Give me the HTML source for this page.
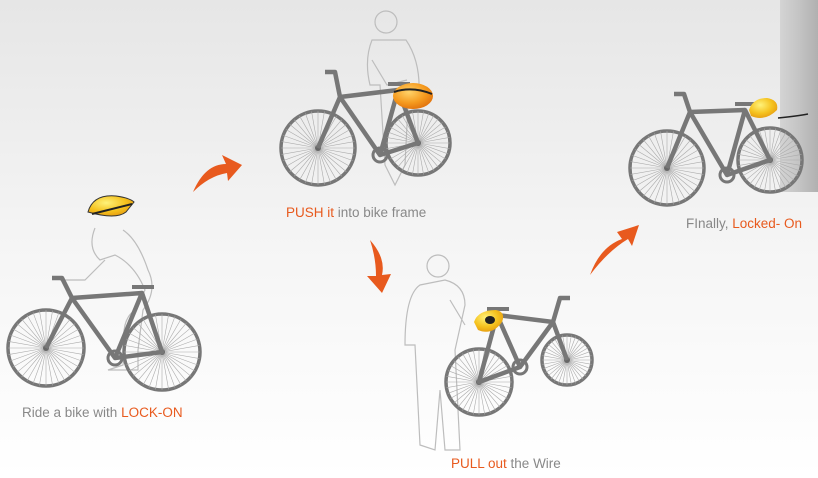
<!DOCTYPE html>
<html><head><meta charset="utf-8"><style>
html,body{margin:0;padding:0}
body{width:818px;height:478px;overflow:hidden;background:linear-gradient(#e6e6e6 0%,#f6f6f6 55%,#ffffff 100%);font-family:"Liberation Sans",sans-serif}
svg{position:absolute;left:0;top:0}
</style></head><body>
<svg id="s" width="818" height="478" viewBox="0 0 818 478" xmlns="http://www.w3.org/2000/svg">
<defs>
<linearGradient id="pole" x1="0" x2="1"><stop offset="0" stop-color="#d4d4d4"/><stop offset="0.5" stop-color="#c4c4c4"/><stop offset="1" stop-color="#b0b0b0"/></linearGradient>
<radialGradient id="hel" cx="0.4" cy="0.35" r="0.7"><stop offset="0" stop-color="#fff27a"/><stop offset="0.6" stop-color="#f5c21e"/><stop offset="1" stop-color="#e59a10"/></radialGradient>
<radialGradient id="hel2" cx="0.4" cy="0.35" r="0.7"><stop offset="0" stop-color="#ffd36a"/><stop offset="0.6" stop-color="#f59a1e"/><stop offset="1" stop-color="#e0700c"/></radialGradient>
</defs>
<rect x="780" y="0" width="38" height="192" fill="url(#pole)"/>
<g id="people" fill="none" stroke="#bdbdbd" stroke-width="1.2">
<path d="M95 228 q-8 20 5 32 l15 -5 q20 10 30 35 l-10 20 q-15 10 -10 40 l-2 15 l-15 5 l30 0 l0 -20 l5 -40 q15 -20 5 -40 q-10 -30 -25 -40 M105 260 l-20 20 l-25 0"/>
<circle cx="386" cy="22" r="11"/>
<path d="M372 40 q-8 20 -2 45 l10 0 l5 80 l10 20 l10 -20 l3 -60 l10 0 q5 -40 -12 -65 z M372 60 l15 25 l20 -5"/>
<circle cx="438" cy="266" r="11"/>
<path d="M420 285 q-15 10 -15 60 l10 0 l5 100 l15 5 l5 -60 l5 60 l15 0 l-5 -100 l10 -45 q0 -20 -20 -25 z M450 300 l15 25"/>
</g>
<g id="bikes"></g>
<path d="M88 212 q5 -18 28 -16 q14 2 18 6 l-8 10 q-10 8 -38 0 z" fill="url(#hel)" stroke="#333" stroke-width="1"/>
<path d="M92 214 l40 -10" stroke="#222" stroke-width="2"/>
<ellipse cx="413" cy="96" rx="20" ry="13" fill="url(#hel2)"/>
<path d="M394 92 q18 -6 38 2" stroke="#222" stroke-width="2" fill="none"/>
<path d="M474 322 q4 -12 22 -12 q10 2 6 12 q-10 14 -24 8 z" fill="url(#hel)"/>
<ellipse cx="490" cy="320" rx="5" ry="4" fill="#222"/>
<path d="M749 110 q4 -12 18 -12 q12 2 10 12 q-12 12 -26 6 z" fill="url(#hel)"/>
<path d="M778 118 q20 -2 30 -4" stroke="#222" stroke-width="1.5" fill="none"/>
<g fill="#e85a1e">
<path d="M193 192 q12 -28 33 -28 l-4 -9 l20 10 l-14 16 l-1 -8 q-18 3 -34 19 z"/>
<path d="M370 240 q16 18 12 35 l9 -1 l-9 19 l-15 -17 l9 0 q0 -18 -6 -36 z"/>
<path d="M590 275 q10 -28 32 -36 l-5 -7 l22 -7 l-7 21 l-4 -7 q-20 12 -38 36 z"/>
</g>
<g font-family="Liberation Sans, sans-serif" font-size="13.5" fill="#888">
<text x="22" y="417">Ride a bike with <tspan fill="#e85a1e">LOCK-ON</tspan></text>
<text x="286" y="217"><tspan fill="#e85a1e">PUSH it</tspan> into bike frame</text>
<text x="451" y="468"><tspan fill="#e85a1e">PULL out</tspan> the Wire</text>
<text x="686" y="228">FInally, <tspan fill="#e85a1e">Locked- On</tspan></text>
</g>
</svg>
<script>
var g=document.getElementById('bikes'),h='';
function wheel(x,y,r){h+='<circle cx="'+x+'" cy="'+y+'" r="'+r+'" fill="none" stroke="#777" stroke-width="3.5"/>';
for(var i=0;i<36;i++){var a=i*Math.PI/18;h+='<line x1="'+x+'" y1="'+y+'" x2="'+(x+Math.cos(a)*r)+'" y2="'+(y+Math.sin(a)*r)+'" stroke="#aaa" stroke-width="0.6"/>';}
h+='<circle cx="'+x+'" cy="'+y+'" r="3" fill="#666"/>';}
function bike(F,R,B,S,H,bar,dir){wheel(F[0],F[1],F[2]);wheel(R[0],R[1],R[2]);
var p=function(a){return a[0]+' '+a[1]};
h+='<path d="M'+p(R)+' L'+p(B)+' L'+p(S)+' Z M'+p(S)+' L'+p(H)+' L'+p(B)+' M'+p(H)+' L'+p(F)+' M'+p(H)+' L'+p(bar)+' l'+(dir*-10)+' 0" fill="none" stroke="#777" stroke-width="4.5" stroke-linejoin="round"/>';
h+='<circle cx="'+B[0]+'" cy="'+B[1]+'" r="7" fill="none" stroke="#777" stroke-width="3"/>';
h+='<path d="M'+(S[0]-10)+' '+(S[1]-6)+' l22 0" stroke="#777" stroke-width="4"/>';}
bike([46,348,38],[162,352,38],[115,358],[142,293],[72,298],[62,278],1);
bike([318,148,37],[418,143,32],[380,155],[398,90],[340,97],[335,72],1);
bike([567,360,25],[479,382,33],[520,367],[497,315],[553,322],[560,298],-1);
bike([667,168,37],[770,160,32],[727,175],[745,110],[690,112],[684,94],1);
g.innerHTML=h;
</script>
</body></html>
